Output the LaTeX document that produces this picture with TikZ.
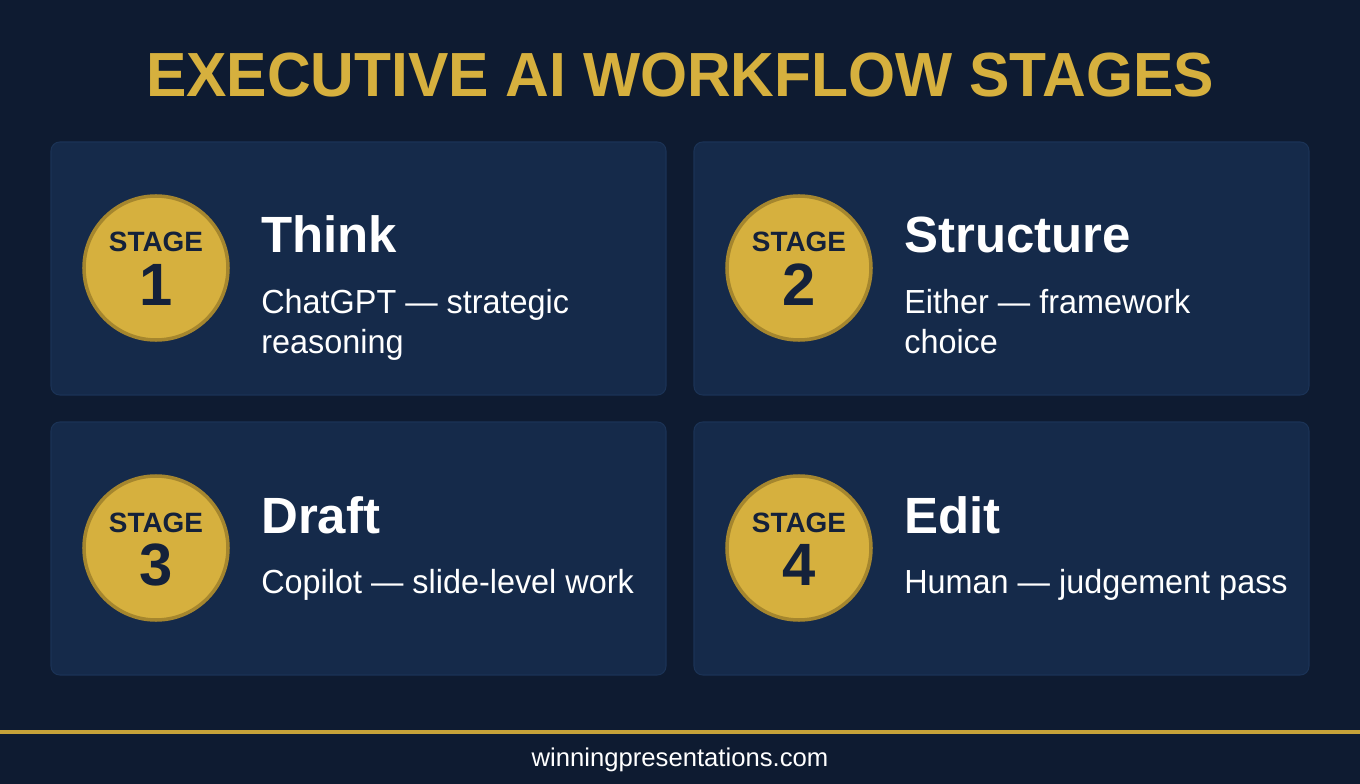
\documentclass[tikz,border=0pt]{standalone}
\usepackage{fontspec}
\setmainfont{Liberation Sans}
\usepackage{tikz}
\usetikzlibrary{positioning}
\definecolor{navybg}{HTML}{0E1B31}
\definecolor{cardbg}{HTML}{152A4A}
\definecolor{cardedge}{HTML}{1B3356}
\definecolor{gold}{HTML}{D6B03E}
\definecolor{golddark}{HTML}{A5862E}
\definecolor{inkdark}{HTML}{14213A}

\begin{document}
\begin{tikzpicture}[
    x=0.02cm, y=-0.02cm,
    card/.style = {fill=cardbg,draw=cardedge,line width=0.6pt,rounded corners=5pt},
    badge/.style = {circle,fill=gold,draw=golddark,line width=2pt,minimum size=144*0.02cm,inner sep=0pt},
    stagelbl/.style = {inkdark,font=\fontsize{15.9}{18}\selectfont\bfseries,inner sep=0pt,anchor=base},
    stagenum/.style = {inkdark,font=\fontsize{34}{38}\selectfont\bfseries,inner sep=0pt,anchor=base},
    head/.style = {white,font=\fontsize{29}{34}\selectfont\bfseries,inner sep=0pt,anchor=base west},
    sub/.style = {white,font=\fontsize{19}{22.7}\selectfont,xscale=0.97,inner sep=0pt,anchor=base west,align=left}
    ]
    \fill[navybg] (0,0) rectangle (1360,784);
    \useasboundingbox (0,0) rectangle (1360,784);
    % Title
    \node[gold,font=\fontsize{35.5}{40}\selectfont\bfseries,xscale=0.97,inner sep=0pt,anchor=base] (title) at (680,97) {EXECUTIVE AI WORKFLOW STAGES};
    % Stage cards (\sy = baseline of the last subtitle line)
    \foreach \n/\cx/\cy/\hd/\sb/\sy in {
        1/51/142/Think/{ChatGPT --- strategic\\reasoning}/211,
        2/694/142/Structure/{Either --- framework\\choice}/211,
        3/51/422/Draft/{Copilot --- slide-level work}/171,
        4/694/422/Edit/{Human --- judgement pass}/171} {
      \draw[card] (\cx,\cy) rectangle ++(615,253);
      \node[badge] (badge\n) at (\cx+105,\cy+126) {};
      \node[stagelbl] (stage\n) at (\cx+105,\cy+110) {STAGE};
      \node[stagenum] (num\n) at (\cx+105,\cy+163) {\n};
      \node[head] (head\n) at (\cx+210,\cy+111) {\hd};
      \node[sub] (sub\n) at (\cx+210,\cy+\sy) {\sb};
    }
    % Footer
    \draw[gold!92!black,line width=2.8pt] (0,732) -- (1360,732);
    \node[white,font=\fontsize{14.6}{17}\selectfont,inner sep=0pt,anchor=base] (site) at (680,766) {winningpresentations.com};
\end{tikzpicture}
\end{document}
